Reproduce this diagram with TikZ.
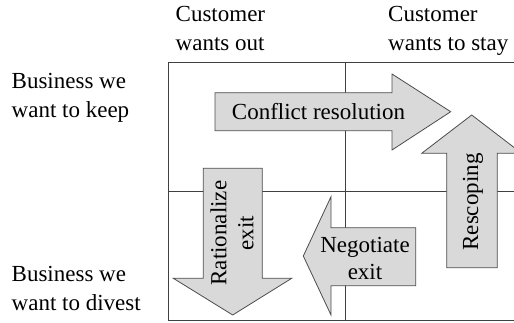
\documentclass[tikz,border=0pt]{standalone}
\usepackage{fontspec}
\setmainfont{Liberation Serif}
\begin{document}
\begin{tikzpicture}[x=1pt,y=-1pt,
  grid/.style={draw=black!75, line width=0.8pt},
  arr/.style={draw=black!70, fill=black!15, line width=0.8pt, line join=miter},
  lbl/.style={font=\fontsize{23}{29}\selectfont, align=left, anchor=north west, inner sep=0pt},
  albl/.style={font=\fontsize{23}{27}\selectfont, align=center, inner sep=0pt}]
\useasboundingbox (0,0) rectangle (514,323);
% grid
\draw[grid] (514,62) -- (168,62) -- (168,320) -- (514,320);
\draw[grid] (345,62) -- (345,320);
\draw[grid] (168,191.5) -- (514,191.5);
% arrows
\draw[arr] (215,92.7) -- (392,92.7) -- (392,74) -- (450.7,111.7) -- (392,150) -- (392,130.7) -- (215,130.7) -- cycle;
\draw[arr] (446.7,267.7) -- (446.7,153.3) -- (421.7,153.3) -- (471.7,115) -- (521.7,153.3) -- (497.3,153.3) -- (497.3,267.7) -- cycle;
\draw[arr] (203.3,168.3) -- (262.3,168.3) -- (262.3,278.3) -- (291.7,278.3) -- (232.7,315) -- (173.3,278.3) -- (203.3,278.3) -- cycle;
\draw[arr] (415.7,227.7) -- (331,227.7) -- (331,196.7) -- (303.3,256) -- (331,315) -- (331,285.7) -- (415.7,285.7) -- cycle;
% arrow labels
\node[albl] (conf) at (318.5,112) {Conflict resolution};
\node[albl, rotate=90] (resc) at (473,202) {Rescoping};
\node[albl, rotate=90] (rat) at (232,233) {Rationalize\\exit};
\node[albl] (neg) at (365,258) {Negotiate\\exit};
% headers
\node[lbl] (c1) at (175.5,6.5) {Customer\\wants out};
\node[lbl] (c2) at (388,6.5) {Customer\\wants to stay};
\node[lbl] (r1) at (11.5,73.5) {Business we\\want to keep};
\node[lbl] (r2) at (11.5,266.5) {Business we\\want to divest};
\end{tikzpicture}
\end{document}
